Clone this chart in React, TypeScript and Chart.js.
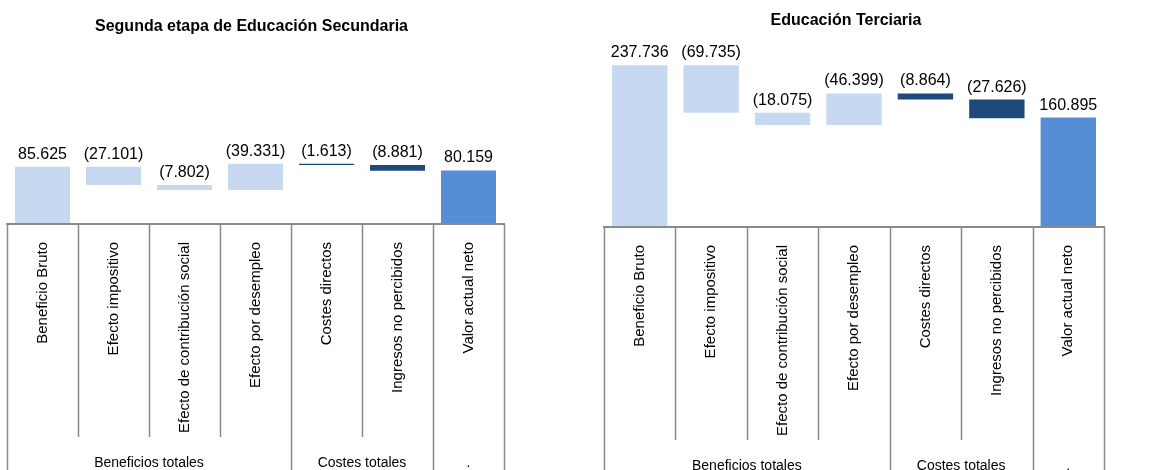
import React, { useEffect, useRef } from "react";
import { Chart, registerables } from "chart.js";

Chart.register(...registerables);

const categories = [
  "Beneficio Bruto",
  "Efecto impositivo",
  "Efecto de contribución social",
  "Efecto por desempleo",
  "Costes directos",
  "Ingresos no percibidos",
  "Valor actual neto",
];
const groupLabels = ["Beneficios totales", "Costes totales", "."];
const groupSpans = [4, 2, 1];

// step values (sign = direction), last one is the total
const secSteps = [85.625, -27.101, -7.802, 39.331, -1.613, -8.881, 80.159];
const secLabels = ["85.625", "(27.101)", "(7.802)", "(39.331)", "(1.613)", "(8.881)", "80.159"];
const terSteps = [237.736, -69.735, -18.075, 46.399, -8.864, -27.626, 160.895];
const terLabels = ["237.736", "(69.735)", "(18.075)", "(46.399)", "(8.864)", "(27.626)", "160.895"];

const LIGHT = "#C6D9F0";
const NAVY = "#1F497D";
const MID = "#558ED5";
const barColors = [LIGHT, LIGHT, LIGHT, LIGHT, NAVY, NAVY, MID];
const FONT = "'Liberation Sans', Arial, sans-serif";
const LINE = "#8a8a8a";

function toRanges(steps: number[]): [number, number][] {
  const out: [number, number][] = [];
  let cum = 0;
  steps.forEach((v, i) => {
    if (i === 0 || i === steps.length - 1) {
      out.push([0, v]);
      cum = v;
    } else {
      out.push([cum, cum + v]);
      cum = cum + v;
    }
  });
  return out;
}

type PanelProps = {
  title: string;
  steps: number[];
  labels: string[];
  width: number;
  padLeft: number;
  padRight: number;
  padBottom: number;
  titleDx: number;
  titleY: number;
};

function Panel(p: PanelProps) {
  const ref = useRef<HTMLCanvasElement | null>(null);
  useEffect(() => {
    if (!ref.current) return;
    const decor = {
      id: "decor",
      afterDraw(chart: any) {
        const ctx = chart.ctx;
        const ca = chart.chartArea;
        const xs = chart.scales.x;
        const H = chart.height;
        ctx.save();
        // title
        ctx.fillStyle = "#000";
        ctx.font = `bold 16px ${FONT}`;
        ctx.textAlign = "center";
        ctx.textBaseline = "middle";
        ctx.fillText(p.title, (ca.left + ca.right) / 2 + p.titleDx, p.titleY);
        // boundaries
        const n = categories.length;
        const bounds: number[] = [];
        for (let i = 0; i <= n; i++) {
          if (i === 0) bounds.push(ca.left);
          else if (i === n) bounds.push(ca.right);
          else bounds.push((xs.getPixelForValue(i - 1) + xs.getPixelForValue(i)) / 2);
        }
        const groupEdges = new Set<number>([0]);
        let acc = 0;
        groupSpans.forEach((s) => {
          acc += s;
          groupEdges.add(acc);
        });
        ctx.strokeStyle = LINE;
        ctx.lineWidth = 1.5;
        bounds.forEach((bx, i) => {
          const yEnd = groupEdges.has(i) ? H : xs.bottom;
          ctx.beginPath();
          ctx.moveTo(Math.round(bx) + 0.5, ca.bottom);
          ctx.lineTo(Math.round(bx) + 0.5, yEnd);
          ctx.stroke();
        });
        // axis line
        ctx.lineWidth = 2;
        ctx.beginPath();
        ctx.moveTo(ca.left - 1, ca.bottom);
        ctx.lineTo(ca.right + 1, ca.bottom);
        ctx.stroke();
        // group labels
        ctx.fillStyle = "#000";
        ctx.font = `14px ${FONT}`;
        ctx.textAlign = "center";
        ctx.textBaseline = "middle";
        let start = 0;
        groupSpans.forEach((s, gi) => {
          const cx = (bounds[start] + bounds[start + s]) / 2;
          ctx.fillText(groupLabels[gi], cx, xs.bottom + 26);
          start += s;
        });
        // value labels
        const meta = chart.getDatasetMeta(0);
        ctx.font = `16px ${FONT}`;
        ctx.textBaseline = "alphabetic";
        meta.data.forEach((el: any, i: number) => {
          const top = Math.min(el.y, el.base);
          ctx.fillText(p.labels[i], el.x, top - 8);
        });
        ctx.restore();
      },
    };
    const chart = new Chart(ref.current, {
      type: "bar",
      data: {
        labels: categories,
        datasets: [
          {
            data: toRanges(p.steps) as any,
            backgroundColor: barColors,
            borderWidth: 0,
            barPercentage: 0.775,
            categoryPercentage: 1,
          },
        ],
      },
      options: {
        responsive: false,
        animation: false,
        devicePixelRatio: 1,
        layout: {
          padding: { top: 57, left: p.padLeft, right: p.padRight, bottom: p.padBottom },
        },
        plugins: {
          legend: { display: false },
          tooltip: { enabled: false },
          title: { display: false },
        },
        scales: {
          x: {
            grid: { display: false, drawTicks: false },
            border: { display: false },
            afterFit(scale: any) {
              scale.height = 213;
            },
            ticks: {
              autoSkip: false,
              maxRotation: 90,
              minRotation: 90,
              padding: 18,
              color: "#000",
              font: { size: 15, family: FONT },
            },
          },
          y: { display: false, min: 0, max: 250 },
        },
      },
      plugins: [decor],
    });
    return () => chart.destroy();
  }, []);
  return <canvas ref={ref} width={p.width} height={470} style={{ display: "block" }} />;
}

export default function App() {
  return (
    <div style={{ position: "absolute", left: 0, top: 0, width: 1156, height: 470, background: "#fff", display: "flex" }}>
      <Panel
        title="Segunda etapa de Educación Secundaria"
        steps={secSteps}
        labels={secLabels}
        width={580}
        padLeft={7}
        padRight={76}
        padBottom={33}
        titleDx={-4}
        titleY={27}
      />
      <Panel
        title="Educación Terciaria"
        steps={terSteps}
        labels={terLabels}
        width={576}
        padLeft={24}
        padRight={52}
        padBottom={30}
        titleDx={-8}
        titleY={21}
      />
    </div>
  );
}
